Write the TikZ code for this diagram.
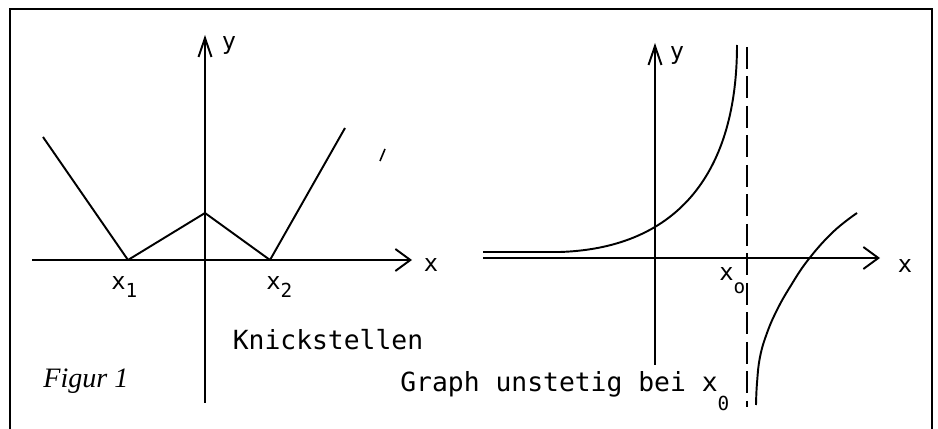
\documentclass[tikz,border=0pt]{standalone}
\usepackage{fontspec}
\setmonofont{DejaVu Sans Mono}
\usetikzlibrary{arrows.meta, positioning, calc}

\tikzset{
  axis/.style={line width=1.1pt},
  xtip/.style={-{Straight Barb[length=0.3cm,width=0.44cm]}},
  ytip/.style={-{Straight Barb[length=0.38cm,width=0.26cm]}},
  graph/.style={line width=1.1pt, line join=round},
  lbl/.style={font=\ttfamily\fontsize{13.5}{14}\selectfont, inner sep=0pt},
  caption/.style={font=\ttfamily\fontsize{15}{16}\selectfont, inner sep=0pt},
}
\newfontfamily\figfont{Liberation Serif}
\newcommand{\lowidx}[2]{\raisebox{#1}{\fontsize{11}{11}\selectfont #2}}

\begin{document}
\begin{tikzpicture}[x=0.02cm, y=-0.02cm]
  \useasboundingbox (0,0) rectangle (938,429);

  % Frame (its bottom edge lies below the picture)
  \coordinate (FL) at (10,429);
  \coordinate (FTL) at (10,9);
  \coordinate (FTR) at (932,9);
  \coordinate (FR) at (932,429);
  \draw[line width=1.3pt] (FL) -- (FTL) -- (FTR) -- (FR);

  % Left graph: axes
  \coordinate (W1) at (32,260);
  \coordinate (E1) at (412,260);
  \coordinate (S1) at (205,403);
  \coordinate (N1) at (205,35);
  \draw[axis,xtip] (W1) -- (E1);
  \draw[axis,ytip] (S1) -- (N1);

  % Left graph: broken line with kinks
  \coordinate (P0) at (43,137);
  \coordinate (K1) at (128,260);
  \coordinate (P1) at (205,213);
  \coordinate (K2) at (270,260);
  \coordinate (P2) at (345,128);
  \draw[graph] (P0) -- (K1) -- (P1) -- (K2) -- (P2);

  % Left graph: labels
  \node[lbl, anchor=base] (ylab1) at (229,50) {y};
  \node[lbl, anchor=base] (xlab1) at (431,272) {x};
  \node[lbl, anchor=base west] (xone) at (111,290) {x\lowidx{-0.55ex}{1}};
  \node[lbl, anchor=base west] (xtwo) at (266,290) {x\lowidx{-0.55ex}{2}};
  \draw[line width=0.9pt] (380,161) -- (385,149);

  \node[caption, anchor=base] (knick) at (328,350) {Knickstellen};
  \node[font=\figfont\fontsize{16}{16}\selectfont\itshape, inner sep=0pt, anchor=base west] (figur) at (43,388) {Figur 1};

  % Right graph: axes
  \coordinate (W2) at (483,258);
  \coordinate (E2) at (880,258);
  \coordinate (S2) at (655,365);
  \coordinate (N2) at (655,43);
  \draw[axis,xtip] (W2) -- (E2);
  \draw[axis,ytip] (S2) -- (N2);

  % Right graph: asymptote at x0
  \coordinate (A0) at (747,47);
  \coordinate (A1) at (747,407);
  \draw[line width=1pt, dash pattern=on 0.44cm off 0.15cm] (A0) -- (A1);

  % Right graph: the two branches
  \coordinate (L0) at (483,252);
  \coordinate (L1) at (560,252);
  \coordinate (L2) at (737,45);
  \draw[graph] (L0) -- (L1) .. controls (680,248) and (737,170) .. (L2);
  \draw[graph] plot[smooth, tension=0.7] coordinates {(857,213) (833,232) (808,260) (790,287) (777,310) (767,333) (760,357) (757,383) (756,405)};

  % Right graph: labels
  \node[lbl, anchor=base] (ylab2) at (677,60) {y};
  \node[lbl, anchor=base] (xlab2) at (905,273) {x};
  \node[lbl, anchor=base west] (xnull) at (719,281) {x\lowidx{-1ex}{o}};

  \node[caption, anchor=base west] (unstetig) at (400,392) {Graph unstetig bei x\lowidx{-1.25ex}{0}};
\end{tikzpicture}
\end{document}
